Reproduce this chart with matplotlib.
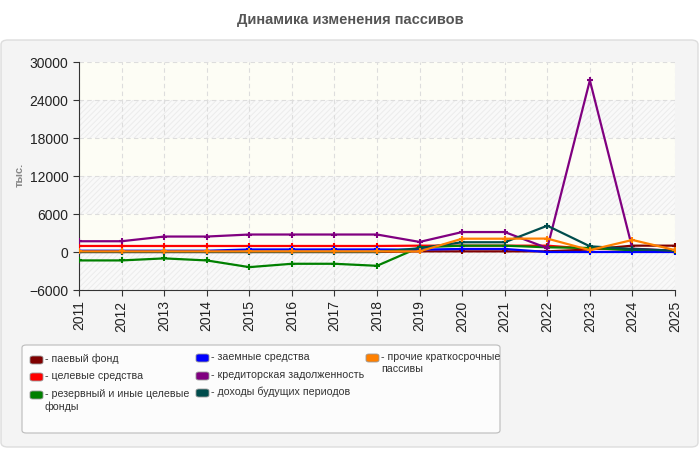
import matplotlib
matplotlib.use("Agg")
import matplotlib.pyplot as plt
from matplotlib.patches import FancyBboxPatch

plt.rcParams['font.family'] = ['Liberation Sans', 'DejaVu Sans']
plt.rcParams['hatch.color'] = '#e9e9e9'
plt.rcParams['hatch.linewidth'] = 0.7

years = list(range(2011, 2026))

# тыс. руб.
paevoy = [0, 0, 0, 0, 0, 0, 0, 0, 100, 100, 100, 100, 400, 1000, 1000]
celevye = [950, 950, 950, 950, 950, 950, 950, 950, 1000, 1000, 1000, 1000, 500, 400, 200]
rezervny = [-1330, -1330, -1010, -1330, -2390, -1860, -1860, -2180, 740, 1000, 1000, 740, 640, 270, 200]
zaemnye = [200, 200, 200, 200, 400, 400, 400, 400, 370, 480, 480, 0, 0, 0, 0]
kreditor = [1700, 1700, 2440, 2440, 2760, 2760, 2760, 2760, 1590, 3150, 3150, 620, 27100, 530, 200]
dohody = [0, 0, 0, 0, 0, 0, 0, 0, 600, 1540, 1540, 4150, 900, 480, 200]
prochie = [100, 100, 100, 100, 100, 100, 100, 100, 100, 2100, 2100, 2120, 300, 1900, 300]

series = [
    ("паевый фонд", paevoy, "#800000"),
    ("целевые средства", celevye, "#ff0000"),
    ("резервный и иные целевые\nфонды", rezervny, "#008000"),
    ("заемные средства", zaemnye, "#0000ff"),
    ("кредиторская задолженность", kreditor, "#800080"),
    ("доходы будущих периодов", dohody, "#004d4d"),
    ("прочие краткосрочные\nпассивы", prochie, "#ff8000"),
]

W, H = 700, 450
fig = plt.figure(figsize=(7, 4.5), dpi=100)
fig.patch.set_facecolor('white')

# grey panel behind chart
panel = FancyBboxPatch((1 / W, 3 / H), 697 / W, (447 - 40) / H,
                       boxstyle="round,pad=0,rounding_size=0.01",
                       transform=fig.transFigure, facecolor='#f4f4f4',
                       edgecolor='#dddddd', linewidth=1, zorder=-5)
fig.patches.append(panel)

fig.text(350 / W, 1 - 20 / H, "Динамика изменения пассивов", ha='center', va='center',
         fontsize=10.5, fontweight='bold', color='#555555')

ax = fig.add_axes([79 / W, 1 - 290 / H, (675 - 79) / W, (290 - 62) / H], zorder=2)
ax.set_facecolor('#fdfdf5')

# alternating hatched bands
ticks_y = [-6000, 0, 6000, 12000, 18000, 24000, 30000]
for i in range(0, len(ticks_y) - 1, 2):
    ax.axhspan(ticks_y[i], ticks_y[i + 1], facecolor='#f9f9f9', hatch='//////',
               edgecolor='#ececec', linewidth=0, zorder=0)

for name, vals, col in series:
    ax.plot(years, vals, color=col, linewidth=1.6, marker='+', markersize=5,
            markeredgewidth=1.5, zorder=3)

ax.set_xlim(2011, 2025)
ax.set_ylim(-6000, 30000)
ax.set_yticks(ticks_y)
ax.set_xticks(years)
ax.set_xticklabels([str(y) for y in years], rotation=90)
ax.tick_params(axis='both', labelsize=10, color='#333333', length=4, labelcolor='#222222')
ax.grid(True, color='#dddddd', linestyle=(0, (4, 3)), linewidth=0.8, zorder=1)
ax.set_axisbelow(True)
for s in ['top', 'right']:
    ax.spines[s].set_visible(False)
for s in ['left', 'bottom']:
    ax.spines[s].set_color('#333333')

fig.text(20 / W, 1 - 175 / H, "тыс.", rotation=90, ha='center', va='center',
         fontsize=8, fontweight='bold', color='#888888')

# legend box
lbox = FancyBboxPatch((22 / W, 1 - 433 / H), (500 - 22) / W, (433 - 345) / H,
                      boxstyle="round,pad=0,rounding_size=0.006",
                      transform=fig.transFigure, facecolor='#fcfcfc',
                      edgecolor='#bbbbbb', linewidth=0.8, zorder=1)
fig.patches.append(lbox)

pos = [(30, 360), (30, 377), (30, 395), (196, 358), (196, 376), (196, 393), (366, 358)]
for (name, vals, col), (px, py) in zip(series, pos):
    sw = FancyBboxPatch((px / W, 1 - (py + 4) / H), 13 / W, 8 / H,
                        boxstyle="round,pad=0,rounding_size=0.004",
                        transform=fig.transFigure, facecolor=col,
                        edgecolor='#999999', linewidth=0.6, zorder=2)
    fig.patches.append(sw)
    fig.text((px + 15) / W, 1 - (py - 6) / H, "- " + name, ha='left', va='top',
             fontsize=7.7, color='#333333', linespacing=1.3)

fig.savefig("out.png", dpi=100)
